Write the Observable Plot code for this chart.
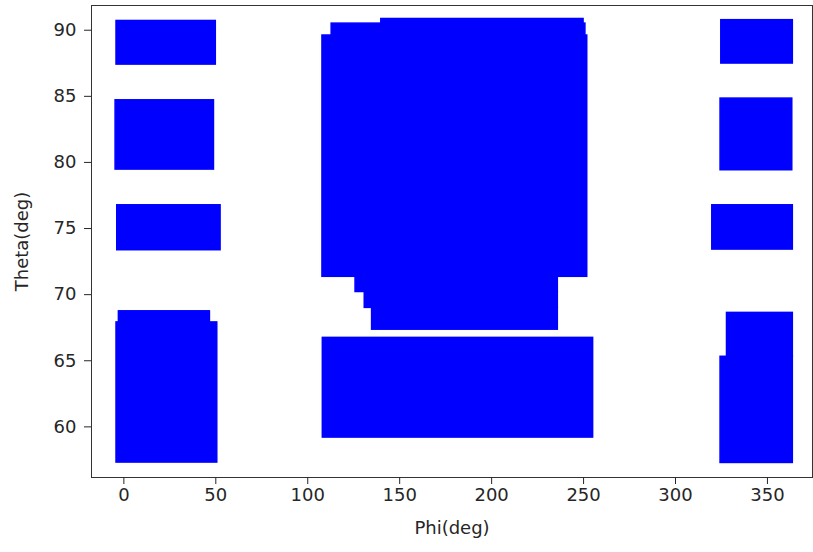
<!DOCTYPE html>
<html><head><meta charset="utf-8">
<script src="https://cdn.jsdelivr.net/npm/d3@7"></script>
<script src="https://cdn.jsdelivr.net/npm/@observablehq/plot@0.6"></script>
<style>body{margin:0;background:#fff}</style>
</head><body><div id="chart"></div>
<script>
// Regions densely filled by the scatter points (Phi, Theta in degrees)
const phiMin   = [-4.0, -4.5, -3.6, -4.0, -2.7, 108.0, 113.0, 140.0, 126.0, 131.0, 135.0, 108.2, 324.9, 324.5, 320.0, 324.5, 328.0];
const phiMax   = [50.0, 49.0, 52.6, 50.8, 46.8, 252.0, 251.0, 250.0, 236.0, 236.0, 236.0, 255.2, 363.8, 363.5, 363.8, 363.8, 363.8];
const thetaMin = [87.4, 79.46, 73.36, 57.3, 67.9, 71.35, 89.6, 90.5, 70.2, 69.0, 67.35, 59.19, 87.48, 79.41, 73.41, 57.27, 65.3];
const thetaMax = [90.7, 84.7, 76.76, 67.9, 68.74, 89.6, 90.5, 90.85, 71.35, 70.2, 69.0, 66.73, 90.76, 84.83, 76.76, 65.3, 68.62];
const xTicks = [0, 50, 100, 150, 200, 250, 300, 350];
const yTicks = [60, 65, 70, 75, 80, 85, 90];

const regions = phiMin.map((d, i) => ({x1: d, x2: phiMax[i], y1: thetaMin[i], y2: thetaMax[i]}));

const chart = Plot.plot({
  width: 813, height: 552,
  marginLeft: 91, marginRight: 1, marginTop: 5, marginBottom: 75,
  style: {fontFamily: "DejaVu Sans", fontSize: "18px", color: "#262626", background: "#fff"},
  x: {domain: [-17.6, 374.5]},
  y: {domain: [56.17, 91.87]},
  marks: [
    Plot.rect(regions, {x1: "x1", x2: "x2", y1: "y1", y2: "y2", fill: "#0000ff", stroke: "#0000ff", strokeWidth: 1.5}),
    Plot.frame({stroke: "#333"}),
    Plot.axisX(xTicks, {tickSize: 7, tickPadding: 4, label: "Phi(deg)", labelAnchor: "center", labelArrow: "none", labelOffset: 56}),
    Plot.axisY(yTicks, {tickSize: 7, tickPadding: 8, label: "Theta(deg)", labelAnchor: "center", labelArrow: "none", labelOffset: 76})
  ]
});
document.getElementById("chart").append(chart);
</script>
</body></html>
